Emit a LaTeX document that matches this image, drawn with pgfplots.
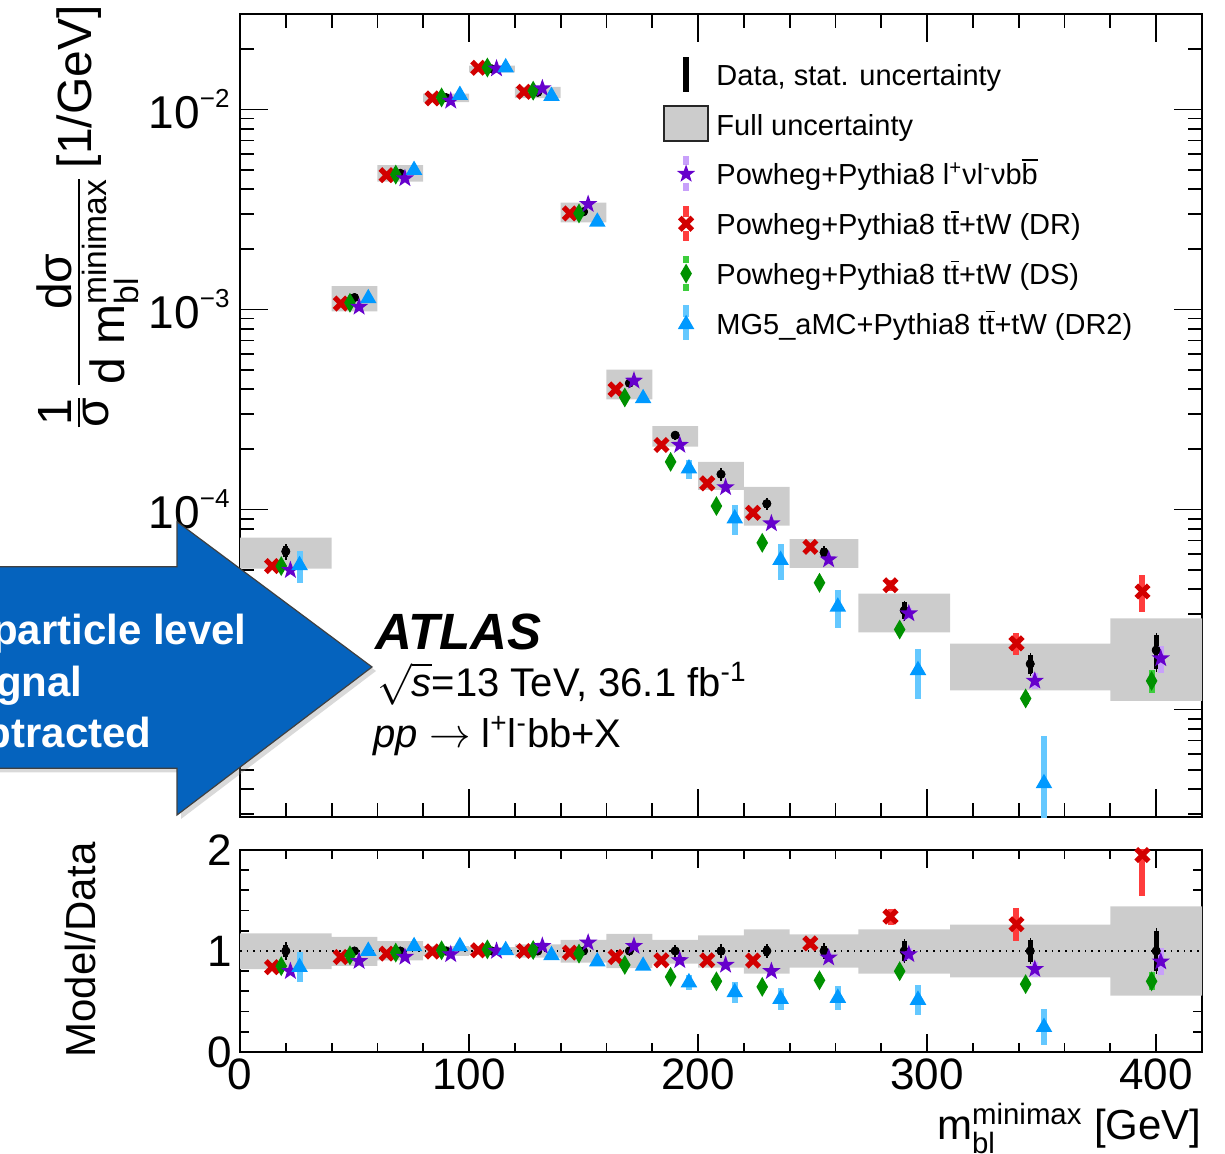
\documentclass[border=0pt]{standalone}
\usepackage{amsmath}
\usepackage{fontspec}
\setmainfont{Liberation Sans}
\usepackage{pgfplots}
\pgfplotsset{compat=1.18}
\usepackage{pgfplotstable}
\usetikzlibrary{shadows}

\definecolor{boxgray}{RGB}{204,204,204}
\definecolor{mred}{RGB}{210,0,0}
\definecolor{lred}{RGB}{255,60,60}
\definecolor{mgreen}{RGB}{0,145,0}
\definecolor{lgreen}{RGB}{60,205,60}
\definecolor{mpurple}{RGB}{102,0,204}
\definecolor{lpurple}{RGB}{200,160,250}
\definecolor{mblue}{RGB}{0,153,255}
\definecolor{lblue}{RGB}{100,200,255}
\definecolor{arrowblue}{RGB}{5,99,190}

% filled five-pointed star
\pgfdeclareplotmark{fstar}{%
  \pgfpathmoveto{\pgfqpointpolar{90}{\pgfplotmarksize}}%
  \pgfpathlineto{\pgfqpointpolar{126}{0.4\pgfplotmarksize}}%
  \pgfpathlineto{\pgfqpointpolar{162}{\pgfplotmarksize}}%
  \pgfpathlineto{\pgfqpointpolar{198}{0.4\pgfplotmarksize}}%
  \pgfpathlineto{\pgfqpointpolar{234}{\pgfplotmarksize}}%
  \pgfpathlineto{\pgfqpointpolar{270}{0.4\pgfplotmarksize}}%
  \pgfpathlineto{\pgfqpointpolar{306}{\pgfplotmarksize}}%
  \pgfpathlineto{\pgfqpointpolar{342}{0.4\pgfplotmarksize}}%
  \pgfpathlineto{\pgfqpointpolar{18}{\pgfplotmarksize}}%
  \pgfpathlineto{\pgfqpointpolar{54}{0.4\pgfplotmarksize}}%
  \pgfpathclose\pgfusepathqfill}
% slim filled diamond
\pgfdeclareplotmark{fdiam}{%
  \pgfpathmoveto{\pgfqpoint{0pt}{\pgfplotmarksize}}%
  \pgfpathlineto{\pgfqpoint{0.58\pgfplotmarksize}{0pt}}%
  \pgfpathlineto{\pgfqpoint{0pt}{-\pgfplotmarksize}}%
  \pgfpathlineto{\pgfqpoint{-0.58\pgfplotmarksize}{0pt}}%
  \pgfpathclose\pgfusepathqfill}
% filled triangle
\pgfdeclareplotmark{ftri}{%
  \pgfpathmoveto{\pgfqpointpolar{90}{\pgfplotmarksize}}%
  \pgfpathlineto{\pgfqpointpolar{210}{\pgfplotmarksize}}%
  \pgfpathlineto{\pgfqpointpolar{330}{\pgfplotmarksize}}%
  \pgfpathclose\pgfusepathqfill}

% full-uncertainty boxes, one rectangle per bin (upper panel)
\pgfplotstableread{
x y
0 5.06e-5
40 5.06e-5
40 7.24e-5
0 7.24e-5
nan nan
40 9.78e-4
60 9.78e-4
60 1.309e-3
40 1.309e-3
nan nan
60 4.35e-3
80 4.35e-3
80 5.26e-3
60 5.26e-3
nan nan
80 1.089e-2
100 1.089e-2
100 1.201e-2
80 1.201e-2
nan nan
100 1.532e-2
120 1.532e-2
120 1.656e-2
100 1.656e-2
nan nan
120 1.138e-2
140 1.138e-2
140 1.298e-2
120 1.298e-2
nan nan
140 2.726e-3
160 2.726e-3
160 3.422e-3
140 3.422e-3
nan nan
160 3.55e-4
180 3.55e-4
180 5.00e-4
160 5.00e-4
nan nan
180 2.059e-4
200 2.059e-4
200 2.611e-4
180 2.611e-4
nan nan
200 1.254e-4
220 1.254e-4
220 1.731e-4
200 1.731e-4
nan nan
220 8.31e-5
240 8.31e-5
240 1.297e-4
220 1.297e-4
nan nan
240 5.10e-5
270 5.10e-5
270 7.10e-5
240 7.10e-5
nan nan
270 2.43e-5
310 2.43e-5
310 3.80e-5
270 3.80e-5
nan nan
310 1.247e-5
380 1.247e-5
380 2.133e-5
310 2.133e-5
nan nan
380 1.105e-5
420 1.105e-5
420 2.855e-5
380 2.855e-5
}\tabBox

% the same boxes relative to data (ratio panel)
\pgfplotstableread{
x y
0 0.820
40 0.820
40 1.174
0 1.174
nan nan
40 0.853
60 0.853
60 1.141
40 1.141
nan nan
60 0.908
80 0.908
80 1.098
60 1.098
nan nan
80 0.951
100 0.951
100 1.049
80 1.049
nan nan
100 0.961
120 0.961
120 1.039
100 1.039
nan nan
120 0.934
140 0.934
140 1.066
120 1.066
nan nan
140 0.885
160 0.885
160 1.111
140 1.111
nan nan
160 0.830
180 0.830
180 1.170
160 1.170
nan nan
180 0.876
200 0.876
200 1.111
180 1.111
nan nan
200 0.836
220 0.836
220 1.154
200 1.154
nan nan
220 0.777
240 0.777
240 1.213
220 1.213
nan nan
240 0.836
270 0.836
270 1.164
240 1.164
nan nan
270 0.777
310 0.777
310 1.213
270 1.213
nan nan
310 0.738
380 0.738
380 1.262
310 1.262
nan nan
380 0.558
420 0.558
420 1.442
380 1.442
}\tabRBox

% data: bin centre, value, ratio, relative stat. uncertainty (thick), outer whisker
\pgfplotstableread{
x v one stat thin
20 6.17e-5 1 0.060 0.090
50 1.147e-3 1 0.020 0.040
70 4.79e-3 1 0.015 0.030
90 1.145e-2 1 0.010 0.025
110 1.594e-2 1 0.010 0.025
130 1.218e-2 1 0.010 0.025
150 3.08e-3 1 0.015 0.030
170 4.28e-4 1 0.025 0.045
190 2.35e-4 1 0.030 0.055
210 1.50e-4 1 0.040 0.070
230 1.069e-4 1 0.045 0.070
255 6.10e-5 1 0.050 0.075
290 3.13e-5 1 0.095 0.120
345 1.69e-5 1 0.105 0.130
400 1.98e-5 1 0.197 0.225
}\tabD

% Powheg+Pythia8 ttbar+tW (DR)
\pgfplotstableread{
x v r e
14 5.21e-5 0.840 0.03
44 1.07e-3 0.940 0.02
64 4.69e-3 0.974 0.02
84 1.135e-2 0.995 0.015
104 1.615e-2 1.007 0.015
124 1.225e-2 1.000 0.015
144 3.02e-3 0.984 0.02
164 3.98e-4 0.941 0.025
184 2.10e-4 0.908 0.03
204 1.35e-4 0.908 0.03
224 9.62e-5 0.905 0.035
249 6.50e-5 1.075 0.04
284 4.18e-5 1.340 0.06
339 2.14e-5 1.265 0.13
394 3.89e-5 1.950 0.21
}\tabR

% Powheg+Pythia8 ttbar+tW (DS)
\pgfplotstableread{
x v r e
18 5.21e-5 0.850 0.03
48 1.08e-3 0.957 0.02
68 4.72e-3 0.984 0.02
88 1.148e-2 1.007 0.015
108 1.62e-2 1.016 0.015
128 1.24e-2 1.010 0.015
148 3.02e-3 0.974 0.02
168 3.63e-4 0.862 0.025
188 1.73e-4 0.744 0.03
208 1.04e-4 0.700 0.03
228 6.81e-5 0.645 0.035
253 4.30e-5 0.710 0.04
288 2.51e-5 0.800 0.05
343 1.135e-5 0.672 0.06
398 1.39e-5 0.700 0.13
}\tabG

% Powheg+Pythia8 l+ v l- v b bbar
\pgfplotstableread{
x v r e
22 4.97e-5 0.800 0.03
52 1.03e-3 0.900 0.02
72 4.52e-3 0.941 0.02
92 1.104e-2 0.967 0.015
112 1.60e-2 1.000 0.015
132 1.274e-2 1.049 0.015
152 3.36e-3 1.082 0.02
172 4.40e-4 1.049 0.025
192 2.10e-4 0.908 0.03
212 1.29e-4 0.862 0.035
232 8.51e-5 0.800 0.04
257 5.62e-5 0.934 0.045
292 3.02e-5 0.967 0.06
347 1.39e-5 0.820 0.09
402 1.80e-5 0.895 0.15
}\tabS

% MG5_aMC+Pythia8 ttbar+tW (DR2)
\pgfplotstableread{
x v r e
26 5.26e-5 0.840 0.18
56 1.135e-3 1.000 0.02
76 4.97e-3 1.046 0.02
96 1.179e-2 1.046 0.015
116 1.62e-2 1.007 0.015
136 1.165e-2 0.957 0.02
156 2.74e-3 0.895 0.025
176 3.59e-4 0.852 0.04
196 1.60e-4 0.688 0.11
216 9.0e-5 0.590 0.17
236 5.58e-5 0.525 0.20
261 3.26e-5 0.535 0.22
296 1.57e-5 0.515 0.28
351 4.27e-6 0.246 0.72
}\tabB

\pgfplotsset{
  panel/.style={
    scale only axis, width=481pt, anchor=south west,
    xmin=0, xmax=420,
    axis line style={line width=1.1pt},
    every tick/.style={black, line width=0.9pt},
    tick align=inside,
    xtick={0,100,200,300,400},
    minor x tick num=4,
    unbounded coords=jump,
  },
  relbars/.style 2 args={error bars/.cd, y dir=both, y explicit relative,
    error mark=none, error bar style={line width=#1, #2, solid}},
  mR/.style={only marks, mark=x, mark size=4.4pt,
    mark options={draw=mred, line width=2.6pt}},
  mG/.style={only marks, mark=fdiam, mark size=5pt,
    mark options={fill=mgreen, draw=none}},
  mS/.style={only marks, mark=fstar, mark size=4.8pt,
    mark options={fill=mpurple, draw=none}},
  mB/.style={only marks, mark=ftri, mark size=4.8pt,
    mark options={fill=mblue, draw=none}},
}

\newcommand\obar[1]{$\overline{\mbox{#1}}$}
\newcommand\tenpow[1]{10\raisebox{10.5pt}{\fontsize{13}{13}\selectfont #1}}

\begin{document}
\begin{tikzpicture}[x=1pt,y=1pt]

% ---------------- upper panel ----------------
\begin{axis}[panel, at={(120pt,168.5pt)}, height=401.5pt,
  ymode=log, ymin=2.9e-6, ymax=0.03,
  xticklabels={},
  ytick={1e-5,1e-4,1e-3,1e-2},
  yticklabels={\tenpow{−5},\tenpow{−4},\tenpow{−3},\tenpow{−2}},
  minor ytick={3e-6,4e-6,5e-6,6e-6,7e-6,8e-6,9e-6,
    2e-5,3e-5,4e-5,5e-5,6e-5,7e-5,8e-5,9e-5,
    2e-4,3e-4,4e-4,5e-4,6e-4,7e-4,8e-4,9e-4,
    2e-3,3e-3,4e-3,5e-3,6e-3,7e-3,8e-3,9e-3,2e-2,3e-2},
  major tick length=14pt, minor tick length=7pt,
  yticklabel style={font=\fontsize{23}{27}\selectfont, inner xsep=5pt},
  legend cell align=left,
  legend style={draw=none, fill=none, at={(0.4397,0.9512)}, anchor=north west,
    inner sep=0pt, row sep=0pt, font=\fontsize{14.5}{17}\selectfont,
    nodes={inner xsep=0pt, inner ysep=5.4pt, text height=10.5pt, text depth=3.5pt}},
]
\addlegendimage{legend image code/.code={
  \path (0pt,0pt) (26pt,0pt);
  \draw[black, line width=3pt] (11pt,-6.5pt) -- (11pt,11pt);}}
\addlegendentry{Data, stat. uncertainty}
\addlegendimage{legend image code/.code={
  \path (0pt,0pt) (26pt,0pt);
  \draw[fill=boxgray, draw=black!85, line width=0.7pt] (0pt,-6.5pt) rectangle (22pt,11pt);}}
\addlegendentry{Full uncertainty}
\addlegendimage{legend image code/.code={
  \path (0pt,0pt) (26pt,0pt);
  \draw[lpurple, line width=3pt] (11pt,6.5pt) -- (11pt,11pt) (11pt,-2.5pt) -- (11pt,-6.5pt);
  \fill[mpurple] plot[only marks, mark=fstar, mark size=4.8pt] coordinates {(11pt,2pt)};}}
\addlegendentry{Powheg+Pythia8 l\textsuperscript{+}νl\textsuperscript{-}νb\obar{b}}
\addlegendimage{legend image code/.code={
  \path (0pt,0pt) (26pt,0pt);
  \draw[lred, line width=3pt] (11pt,5.5pt) -- (11pt,11pt) (11pt,-1.5pt) -- (11pt,-6.5pt);
  \draw[mred, line width=2.6pt] plot[only marks, mark=x, mark size=4.4pt] coordinates {(11pt,2pt)};}}
\addlegendentry{Powheg+Pythia8 t\obar{t}+tW (DR)}
\addlegendimage{legend image code/.code={
  \path (0pt,0pt) (26pt,0pt);
  \draw[lgreen, line width=3pt] (11pt,7.2pt) -- (11pt,11pt) (11pt,-3.3pt) -- (11pt,-6.5pt);
  \fill[mgreen] plot[only marks, mark=fdiam, mark size=5pt] coordinates {(11pt,2pt)};}}
\addlegendentry{Powheg+Pythia8 t\obar{t}+tW (DS)}
\addlegendimage{legend image code/.code={
  \path (0pt,0pt) (26pt,0pt);
  \draw[lblue, line width=3pt] (11pt,5pt) -- (11pt,11pt) (11pt,-1pt) -- (11pt,-6.5pt);
  \fill[mblue] plot[only marks, mark=ftri, mark size=4.8pt] coordinates {(11pt,1.5pt)};}}
\addlegendentry{MG5\_aMC+Pythia8 t\obar{t}+tW (DR2)}

% full uncertainty boxes
\addplot[draw=none, fill=boxgray, forget plot] table[x=x, y=y] {\tabBox};

% data
\addplot[only marks, mark=none, forget plot, relbars={0.7pt}{black}]
  table[x=x, y=v, y error=thin] {\tabD};
\addplot[only marks, mark=none, forget plot, relbars={2.6pt}{black}]
  table[x=x, y=v, y error=stat] {\tabD};

% predictions
\addplot[mR, forget plot, relbars={3pt}{lred}] table[x=x, y=v, y error=e] {\tabR};
\addplot[mG, forget plot, relbars={3pt}{lgreen}] table[x=x, y=v, y error=e] {\tabG};
\addplot[mS, forget plot, relbars={3pt}{lpurple}] table[x=x, y=v, y error=e] {\tabS};
\addplot[mB, forget plot, relbars={3pt}{lblue}] table[x=x, y=v, y error=e] {\tabB};
\end{axis}

% ---------------- ratio panel ----------------
\begin{axis}[panel, at={(120pt,51pt)}, height=101pt,
  ymin=0, ymax=2, ytick={0,1,2}, minor y tick num=4,
  major tick length=9pt, minor tick length=4.5pt,
  ticklabel style={font=\fontsize{22}{26}\selectfont, /pgf/number format/assume math mode=true},
  yticklabel style={inner xsep=4pt},
  xlabel={m$^{\text{minimax}}_{\text{bl}}$ [GeV]},
  xlabel style={at={(rel axis cs:1,0)}, anchor=base east, yshift=-44pt,
    inner sep=0pt, font=\fontsize{21}{25}\selectfont},
]
\addplot[draw=none, fill=boxgray, forget plot] table[x=x, y=y] {\tabRBox};

\addplot[black, line width=0.8pt, dash pattern=on 0.8pt off 2.5pt, forget plot]
  coordinates {(0,1) (420,1)};

\addplot[only marks, mark=none, forget plot, relbars={0.7pt}{black}]
  table[x=x, y=one, y error=thin] {\tabD};
\addplot[only marks, mark=none, forget plot, relbars={2.6pt}{black}]
  table[x=x, y=one, y error=stat] {\tabD};

\addplot[mR, forget plot, relbars={3pt}{lred}] table[x=x, y=r, y error=e] {\tabR};
\addplot[mG, forget plot, relbars={3pt}{lgreen}] table[x=x, y=r, y error=e] {\tabG};
\addplot[mS, forget plot, relbars={3pt}{lpurple}] table[x=x, y=r, y error=e] {\tabS};
\addplot[mB, forget plot, relbars={3pt}{lblue}] table[x=x, y=r, y error=e] {\tabB};
\end{axis}

% axis titles
\node[rotate=90, anchor=east, inner sep=0pt, font=\fontsize{24}{28}\selectfont]
  at (44pt,574.5pt)
  {$\genfrac{}{}{}{1}{\mbox{1}}{\mbox{σ}}\,\genfrac{}{}{}{1}{\mbox{dσ}}{\mbox{d m$^{\text{minimax}}_{\text{bl}}$}}$\,[1/GeV]};
\node[rotate=90, inner sep=0pt, font=\fontsize{21}{25}\selectfont] at (40pt,102pt) {Model/Data};

% experiment labels
\node[anchor=base west, inner sep=0pt, font=\fontsize{25.5}{30}\selectfont\bfseries\itshape]
  at (187.5pt,252pt) {ATLAS};
\node[anchor=base west, inner sep=0pt, font=\fontsize{20}{24}\selectfont]
  at (188.5pt,228.5pt) {$\sqrt{\text{\itshape s}}$=13 TeV, 36.1 fb\textsuperscript{-1}};
\node[anchor=base west, inner sep=0pt, font=\fontsize{20}{24}\selectfont]
  at (186.5pt,203pt) {\textit{pp} $\rightarrow$ l\textsuperscript{+}l\textsuperscript{-}bb+X};

% call-out arrow
\fill[arrowblue, draw=black!75, line width=0.6pt,
  drop shadow={shadow xshift=2pt, shadow yshift=-2pt, opacity=0.3}]
  (-10pt,293.65pt) -- (88.5pt,293.65pt) -- (88.5pt,316.15pt) -- (186pt,243.5pt)
  -- (88.5pt,169.5pt) -- (88.5pt,192.85pt) -- (-10pt,192.85pt) -- cycle;
\begin{scope}[every node/.style={anchor=base east, inner sep=0pt, text=white,
    font=\fontsize{21}{25}\selectfont\bfseries}]
  \node at (123.5pt,254.5pt) {particle level};
  \node at (41.5pt,228.5pt) {signal};
  \node at (76pt,203pt) {subtracted};
\end{scope}

\pgfresetboundingbox
\path[use as bounding box] (0pt,0pt) rectangle (612.5pt,577pt);
\end{tikzpicture}
\end{document}
